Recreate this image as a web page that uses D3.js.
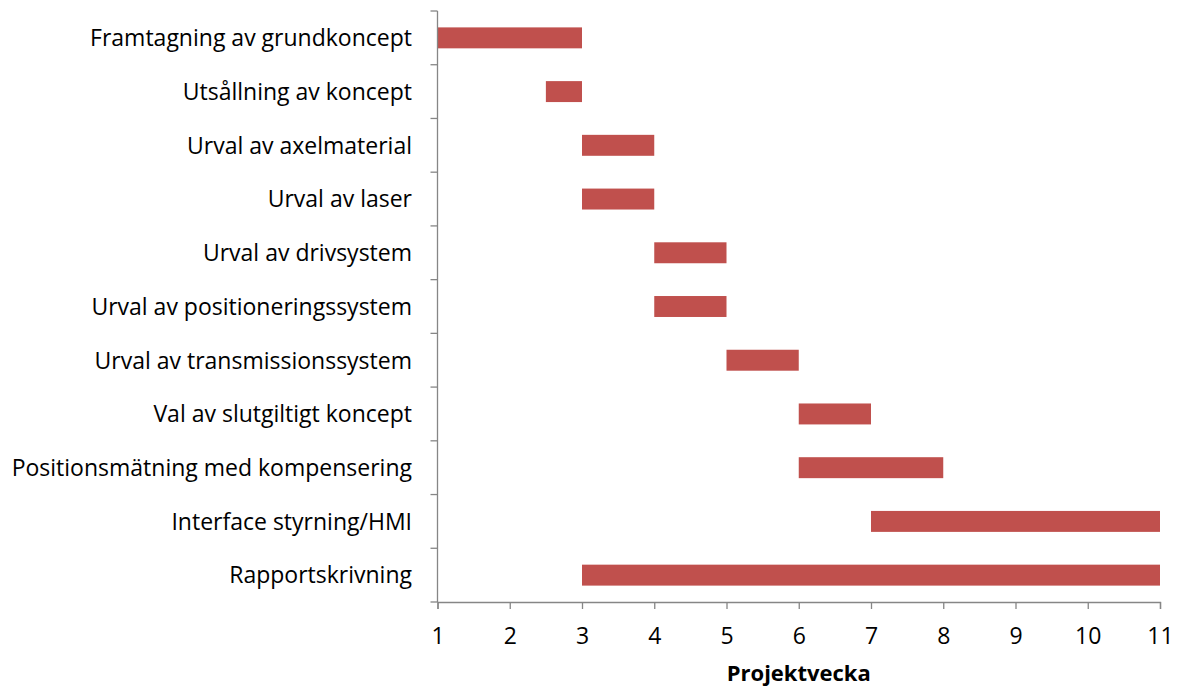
<!DOCTYPE html>
<html><head><meta charset="utf-8">
<script src="https://cdn.jsdelivr.net/npm/d3@7"></script>
<style>body{margin:0;background:#fff}svg{display:block}text{font-family:"Open Sans",sans-serif}</style>
</head><body>
<svg id="c" width="1180" height="688"></svg>
<script>
const tasks = ["Framtagning av grundkoncept","Utsållning av koncept","Urval av axelmaterial","Urval av laser","Urval av drivsystem","Urval av positioneringssystem","Urval av transmissionssystem","Val av slutgiltigt koncept","Positionsmätning med kompensering","Interface styrning/HMI","Rapportskrivning"];
const starts = [1,2.5,3,3,4,4,5,6,6,7,3];
const ends = [3,3,4,4,5,5,6,7,8,11,11];
const xTicks = [1,2,3,4,5,6,7,8,9,10,11];
const xTitle = "Projektvecka";

const svg = d3.select("#c");
const L=437.5,R=1160,T=11,B=602;
const x = d3.scaleLinear().domain([1,11]).range([L,R]);
const y = d3.scaleBand().domain(tasks).range([T,B]).paddingInner(0.61).paddingOuter(0.305);
const yb = d3.scaleBand().domain(tasks).range([T,B]);
const axisColor="#868686";

svg.append("g").selectAll("rect").data(tasks).join("rect")
  .attr("x",(d,i)=>x(starts[i])).attr("width",(d,i)=>x(ends[i])-x(starts[i]))
  .attr("y",d=>y(d)).attr("height",y.bandwidth()).attr("fill","#C0504D");

// y axis
const gy=svg.append("g");
gy.append("line").attr("x1",L).attr("x2",L).attr("y1",T).attr("y2",B).attr("stroke",axisColor).attr("stroke-width",1.3);
const bounds = tasks.map(d=>yb(d)).concat([B]);
gy.selectAll("line.t").data(bounds).join("line").attr("class","t")
  .attr("x1",L-7).attr("x2",L).attr("y1",d=>d).attr("y2",d=>d).attr("stroke",axisColor).attr("stroke-width",1.3);
gy.selectAll("text").data(tasks).join("text")
  .attr("x",412).attr("y",d=>yb(d)+yb.bandwidth()/2).attr("dy","0.36em")
  .attr("text-anchor","end").attr("font-size",23).attr("fill","#000").text(d=>d);

// x axis
const gx=svg.append("g").attr("transform",`translate(0,${B})`);
gx.call(d3.axisBottom(x).tickValues(xTicks).tickSize(7).tickFormat(d3.format("d")));
gx.select(".domain").attr("stroke",axisColor).attr("stroke-width",1.3);
gx.selectAll(".tick line").attr("stroke",axisColor).attr("stroke-width",1.3);
gx.selectAll(".tick text").attr("font-size",23).attr("fill","#000").attr("y",26).attr("font-family","'Open Sans',sans-serif");

svg.append("text").attr("x",(L+R)/2).attr("y",681).attr("text-anchor","middle")
  .attr("font-size",22).attr("font-weight","bold").attr("fill","#000").text(xTitle);
</script>
</body></html>
